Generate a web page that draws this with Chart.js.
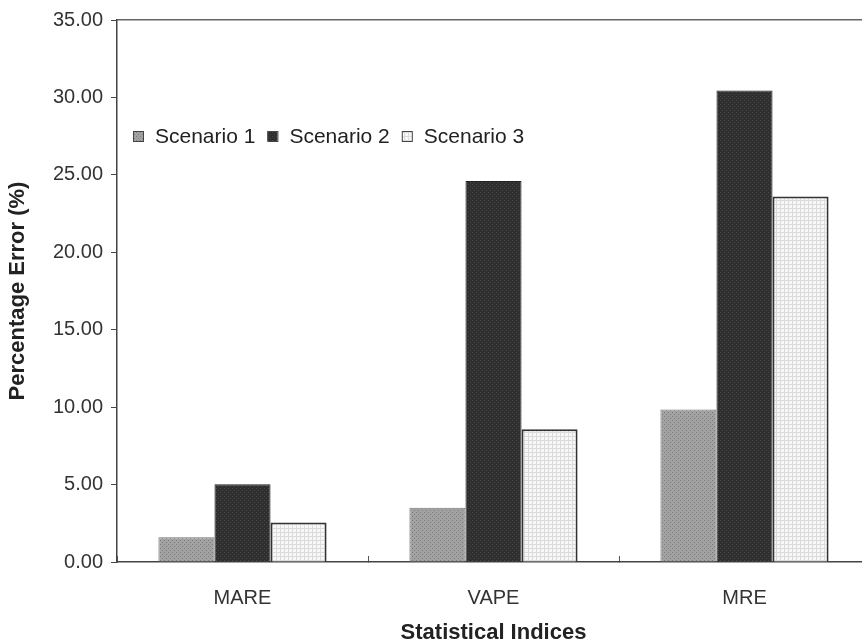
<!DOCTYPE html>
<html><head><meta charset="utf-8">
<script src="https://cdn.jsdelivr.net/npm/chart.js@4.4.0/dist/chart.umd.min.js"></script>
<style>html,body{margin:0;padding:0;background:#fff;overflow:hidden}#wrap{width:872px;height:643px}</style>
</head><body><div id="wrap"><canvas id="c" width="872" height="643"></canvas></div>
<script>
const categories = ['MARE', 'VAPE', 'MRE'];
const seriesNames = ['Scenario 1', 'Scenario 2', 'Scenario 3'];
const scenario1 = [1.60, 3.50, 9.85];
const scenario2 = [5.02, 24.60, 30.45];
const scenario3 = [2.55, 8.58, 23.60];
const yTicks = [0, 5, 10, 15, 20, 25, 30, 35];
const xTitle = 'Statistical Indices';
const yTitle = 'Percentage Error (%)';

function makePattern(bg, fg, kind) {
  const c = document.createElement('canvas'); c.width = 4; c.height = 4;
  const x = c.getContext('2d');
  x.fillStyle = bg; x.fillRect(0, 0, 4, 4);
  x.fillStyle = fg;
  if (kind === 'dots') { x.fillRect(0, 0, 1, 1); x.fillRect(2, 2, 1, 1); }
  else if (kind === 'grid') { x.fillRect(0, 0, 4, 1); x.fillRect(0, 0, 1, 4); }
  return x.createPattern(c, 'repeat');
}
const pat1 = makePattern('#a2a2a2', '#7a7a7a', 'dots');
const pat2 = makePattern('#2f2f2f', '#484848', 'dots');
const pat3 = makePattern('#f7f7f7', '#dcdcdc', 'grid');

const FONT = 'Liberation Sans';
const insideLegend = {
  id: 'insideLegend',
  afterDraw(chart) {
    const ctx = chart.ctx;
    ctx.save();
    ctx.font = '21px "' + FONT + '"';
    ctx.textBaseline = 'middle';
    let x = chart.chartArea.left + 16;
    const y = chart.chartArea.top + 116;
    chart.data.datasets.forEach(ds => {
      ctx.fillStyle = ds.backgroundColor;
      ctx.fillRect(x, y - 5, 10, 10);
      ctx.strokeStyle = '#444'; ctx.lineWidth = 1;
      ctx.strokeRect(x + 0.5, y - 4.5, 10, 10);
      x += 22;
      ctx.fillStyle = '#222';
      ctx.fillText(ds.label, x, y + 1);
      x += ctx.measureText(ds.label).width + 12;
    });
    ctx.restore();
  }
};

new Chart(document.getElementById('c'), {
  type: 'bar',
  data: {
    labels: categories,
    datasets: [
      { label: seriesNames[0], data: scenario1, backgroundColor: pat1, borderColor: '#777', borderWidth: 1 },
      { label: seriesNames[1], data: scenario2, backgroundColor: pat2, borderColor: '#222', borderWidth: 1 },
      { label: seriesNames[2], data: scenario3, backgroundColor: pat3, borderColor: '#333', borderWidth: 2 }
    ]
  },
  options: {
    responsive: false,
    animation: false,
    devicePixelRatio: 1,
    categoryPercentage: 0.67,
    barPercentage: 1.0,
    layout: { padding: { left: 0, top: 20, right: 2, bottom: 0 } },
    plugins: { legend: { display: false }, tooltip: { enabled: false } },
    scales: {
      x: {
        offset: true,
        grid: { offset: true, drawOnChartArea: false, tickLength: -6, color: '#555', lineWidth: 1 },
        border: { color: '#444', width: 1.5 },
        ticks: { font: { family: FONT, size: 20 }, color: '#333', padding: 30, maxRotation: 0 },
        title: { display: true, text: xTitle, font: { family: FONT, size: 22, weight: 'bold' }, color: '#222', padding: { top: 0, bottom: -3 } },
        afterFit: s => { s.height = 81; }
      },
      x2: {
        position: 'top', type: 'category', labels: categories, offset: true,
        grid: { display: false }, ticks: { display: false },
        border: { display: true, color: '#666', width: 1.5 },
        afterFit: s => { s.height = 0; }
      },
      y: {
        min: 0, max: 35,
        afterBuildTicks: s => { s.ticks = yTicks.map(v => ({ value: v })); },
        ticks: { callback: v => Number(v).toFixed(2), font: { family: FONT, size: 20 }, color: '#333', padding: 8 },
        grid: { drawOnChartArea: false, tickLength: 6, color: '#444' },
        border: { color: '#444', width: 1.5 },
        title: { display: true, text: yTitle, font: { family: FONT, size: 22, weight: 'bold' }, color: '#222', padding: { top: 5, bottom: 0 } },
        afterFit: s => { s.width = 117; }
      }
    }
  },
  plugins: [insideLegend]
});
</script>
</body></html>
